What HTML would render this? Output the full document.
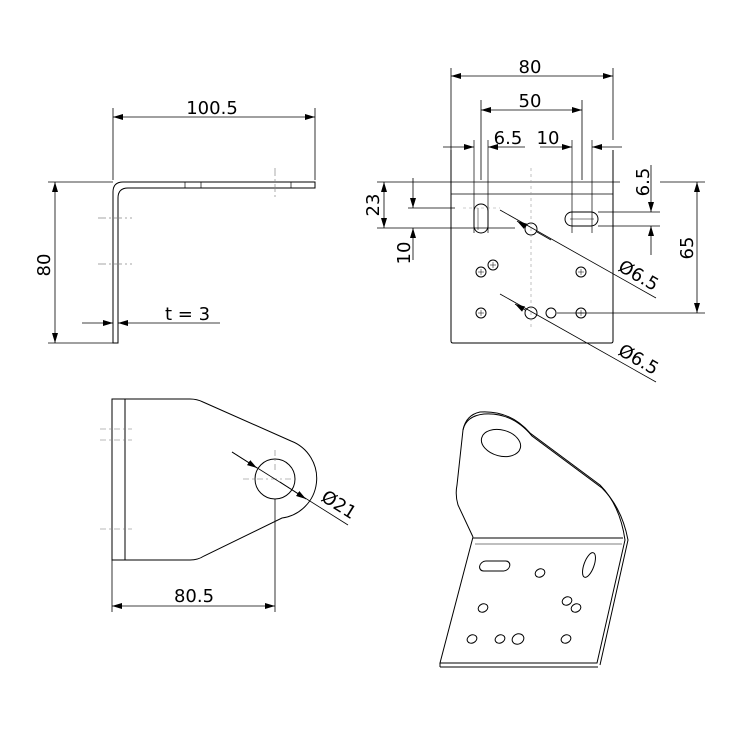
<!DOCTYPE html>
<html><head><meta charset="utf-8"><style>body{margin:0;background:#fff}svg{display:block}text{font-family:"DejaVu Sans","Liberation Sans",sans-serif;fill:#000}</style></head><body>
<svg width="756" height="756" viewBox="0 0 756 756" xmlns="http://www.w3.org/2000/svg">
<defs><marker id="a" viewBox="0 0 10 6" refX="10" refY="3" markerWidth="10" markerHeight="6" orient="auto-start-reverse" markerUnits="userSpaceOnUse"><path d="M0,0L10,3L0,6z" fill="#000"/></marker></defs>
<g fill="none" stroke="#000" stroke-width="1">
<path d="M113,343 V192 Q113,182 123,182 H315 V188 H128 Q118,188 118,198 V343 Z"/>
<line x1="48" y1="182" x2="113" y2="182" stroke-width="0.8"/>
<line x1="48" y1="343" x2="118" y2="343" stroke-width="0.8"/>
<line x1="113" y1="108" x2="113" y2="180" stroke-width="0.8"/>
<line x1="315" y1="108" x2="315" y2="180" stroke-width="0.8"/>
<line x1="113" y1="117" x2="315" y2="117" marker-start="url(#a)" marker-end="url(#a)" stroke-width="0.8"/>
<line x1="55" y1="182" x2="55" y2="343" marker-start="url(#a)" marker-end="url(#a)" stroke-width="0.8"/>
<line x1="82" y1="323" x2="113" y2="323" marker-end="url(#a)" stroke-width="0.8"/>
<line x1="220" y1="323" x2="118" y2="323" marker-end="url(#a)" stroke-width="0.8"/>
<g stroke="#888" stroke-width="0.7" stroke-dasharray="8,3,2,3">
<line x1="98" y1="218" x2="132" y2="218"/><line x1="98" y1="264" x2="132" y2="264"/>
<line x1="275" y1="168" x2="275" y2="200"/>
</g>
<g stroke-width="0.7"><line x1="185" y1="182" x2="185" y2="188"/><line x1="201" y1="182" x2="201" y2="188"/><line x1="291" y1="182" x2="291" y2="188"/></g>

<path d="M451,150 V341 Q451,343 453,343 H611 Q613,343 613,341 V150"/>
<line x1="451" y1="68" x2="451" y2="150" stroke-width="0.8"/>
<line x1="613" y1="68" x2="613" y2="140" stroke-width="0.8"/>
<line x1="451" y1="76" x2="613" y2="76" marker-start="url(#a)" marker-end="url(#a)" stroke-width="0.8"/>
<line x1="481" y1="100" x2="481" y2="180" stroke-width="0.8"/>
<line x1="582" y1="100" x2="582" y2="180" stroke-width="0.8"/>
<line x1="481" y1="110" x2="582" y2="110" marker-start="url(#a)" marker-end="url(#a)" stroke-width="0.8"/>
<line x1="474" y1="140" x2="474" y2="233" stroke-width="0.7"/><line x1="488" y1="140" x2="488" y2="233" stroke-width="0.7"/>
<line x1="443" y1="147" x2="474" y2="147" marker-end="url(#a)" stroke-width="0.8"/>
<line x1="525" y1="147" x2="488" y2="147" marker-end="url(#a)" stroke-width="0.8"/>
<line x1="572" y1="140" x2="572" y2="233" stroke-width="0.7"/><line x1="592" y1="140" x2="592" y2="233" stroke-width="0.7"/>
<line x1="540" y1="147" x2="572" y2="147" marker-end="url(#a)" stroke-width="0.8"/>
<line x1="622" y1="147" x2="592" y2="147" marker-end="url(#a)" stroke-width="0.8"/>
<line x1="377" y1="182" x2="620" y2="182" stroke-width="0.8"/>
<line x1="660" y1="182" x2="705" y2="182" stroke-width="0.8"/>
<line x1="451" y1="194" x2="613" y2="194" stroke-width="0.7"/>
<line x1="377" y1="228" x2="515" y2="228" stroke-width="0.8"/>
<line x1="408" y1="208" x2="455" y2="208" stroke-width="0.8"/>
<line x1="384" y1="182" x2="384" y2="228" marker-start="url(#a)" marker-end="url(#a)" stroke-width="0.8"/>
<line x1="413" y1="178" x2="413" y2="208" marker-end="url(#a)" stroke-width="0.8"/>
<line x1="413" y1="260" x2="413" y2="228" marker-end="url(#a)" stroke-width="0.8"/>
<rect x="474" y="204" width="14" height="29" rx="7"/>
<rect x="565" y="212" width="33" height="14" rx="7"/>
<line x1="598" y1="212" x2="660" y2="212" stroke-width="0.8"/>
<line x1="598" y1="226" x2="660" y2="226" stroke-width="0.8"/>
<line x1="651" y1="165" x2="651" y2="212" marker-end="url(#a)" stroke-width="0.8"/>
<line x1="651" y1="255" x2="651" y2="226" marker-end="url(#a)" stroke-width="0.8"/>
<line x1="557" y1="313" x2="705" y2="313" stroke-width="0.8"/>
<line x1="697" y1="182" x2="697" y2="313" marker-start="url(#a)" marker-end="url(#a)" stroke-width="0.8"/>
<circle cx="531" cy="229" r="6"/>
<circle cx="481" cy="272" r="5"/><circle cx="493" cy="265" r="5"/><circle cx="581" cy="272" r="5"/>
<circle cx="481" cy="313" r="5"/><circle cx="531" cy="313" r="6"/><circle cx="551" cy="313" r="5"/><circle cx="581" cy="313" r="5"/>
<g stroke-width="0.5"><path d="M478,272h6M481,269v6M490,265h6M493,262v6M578,272h6M581,269v6M478,313h6M481,310v6M578,313h6M581,310v6M570,219h24M478,208v22"/></g>
<line x1="500" y1="210" x2="656" y2="298" stroke-width="0.8"/>
<line x1="525" y1="226" x2="517" y2="221" marker-end="url(#a)" stroke-width="0.8"/>
<line x1="537" y1="232" x2="551" y2="240" stroke-width="0.8"/>
<line x1="500" y1="294" x2="656" y2="382" stroke-width="0.8"/>
<line x1="525" y1="310" x2="515" y2="304" marker-end="url(#a)" stroke-width="0.8"/>
<g stroke="#999" stroke-width="0.6" stroke-dasharray="3,3"><line x1="531" y1="168" x2="531" y2="330"/><line x1="463" y1="208" x2="500" y2="208"/></g>

<path d="M112,399 H190 Q197,399 203,402 L291,441 A40,40 0 0 1 282,518 L204,556 Q198,560 190,560 H112 Z"/>
<line x1="125" y1="399" x2="125" y2="560"/>
<circle cx="275" cy="479" r="20"/>
<g stroke="#777" stroke-width="0.6" stroke-dasharray="6,3,2,3"><line x1="100" y1="429" x2="132" y2="429"/><line x1="100" y1="440" x2="132" y2="440"/><line x1="100" y1="529" x2="132" y2="529"/><line x1="243" y1="479" x2="298" y2="479"/><line x1="275" y1="450" x2="275" y2="470"/></g>
<line x1="112" y1="560" x2="112" y2="612" stroke-width="0.8"/>
<line x1="275" y1="499" x2="275" y2="612" stroke-width="0.8"/>
<line x1="112" y1="606" x2="275" y2="606" marker-start="url(#a)" marker-end="url(#a)" stroke-width="0.8"/>
<line x1="232" y1="452" x2="348" y2="525" stroke-width="0.8"/>
<line x1="232" y1="452" x2="257" y2="468" marker-end="url(#a)" stroke-width="0.8"/>
<line x1="280" y1="482" x2="306" y2="499" marker-end="url(#a)" stroke-width="0.8"/>

<path d="M473,537 L458,505 Q455,495 457,485 L463,430 Q466,415 480,412 Q510,410 530,433 L600,485 Q620,505 625,540 L597,663 H440 L473,537"/>
<path d="M463,430 Q466,416 484,414 Q512,412 532,436 L602,488 Q622,508 628,540 L600,665"/>
<line x1="473" y1="538" x2="623" y2="538"/>
<line x1="475" y1="544" x2="622" y2="544" stroke-width="0.6"/>
<line x1="440" y1="663" x2="440" y2="667"/><line x1="440" y1="667" x2="598" y2="667"/>
<ellipse cx="501" cy="443" rx="20" ry="13" transform="rotate(15 501 443)"/>
<rect x="481" y="561" width="30" height="10" rx="5" transform="skewX(-12) translate(119,0)"/>
<ellipse cx="589" cy="565" rx="5" ry="13" transform="rotate(20 589 565)"/>
<ellipse cx="540" cy="573" rx="5" ry="4" transform="rotate(-25 540 573)"/>
<ellipse cx="483" cy="608" rx="5" ry="4" transform="rotate(-25 483 608)"/>
<ellipse cx="567" cy="601" rx="5" ry="4" transform="rotate(-25 567 601)"/>
<ellipse cx="576" cy="608" rx="5" ry="4" transform="rotate(-25 576 608)"/>
<ellipse cx="472" cy="639" rx="5" ry="4" transform="rotate(-25 472 639)"/>
<ellipse cx="500" cy="639" rx="5" ry="4" transform="rotate(-25 500 639)"/>
<ellipse cx="518" cy="639" rx="6" ry="5" transform="rotate(-25 518 639)"/>
<ellipse cx="566" cy="639" rx="5" ry="4" transform="rotate(-25 566 639)"/>
</g>
<g font-size="18">
<text x="212" y="114" text-anchor="middle">100.5</text>
<text transform="translate(50,265) rotate(-90)" text-anchor="middle">80</text>
<text x="165" y="320">t = 3</text>
<text x="530" y="73" text-anchor="middle">80</text>
<text x="530" y="107" text-anchor="middle">50</text>
<text x="508" y="144" text-anchor="middle">6.5</text>
<text x="548" y="144" text-anchor="middle">10</text>
<text transform="translate(379,205) rotate(-90)" text-anchor="middle">23</text>
<text transform="translate(410,253) rotate(-90)" text-anchor="middle">10</text>
<text transform="translate(649,182) rotate(-90)" text-anchor="middle">6.5</text>
<text transform="translate(693,248) rotate(-90)" text-anchor="middle">65</text>
<text transform="translate(617,270) rotate(30)">Ø6.5</text>
<text transform="translate(617,354) rotate(30)">Ø6.5</text>
<text transform="translate(320,500) rotate(32)">Ø21</text>
<text x="194" y="602" text-anchor="middle">80.5</text>
</g>
</svg>
</body></html>
